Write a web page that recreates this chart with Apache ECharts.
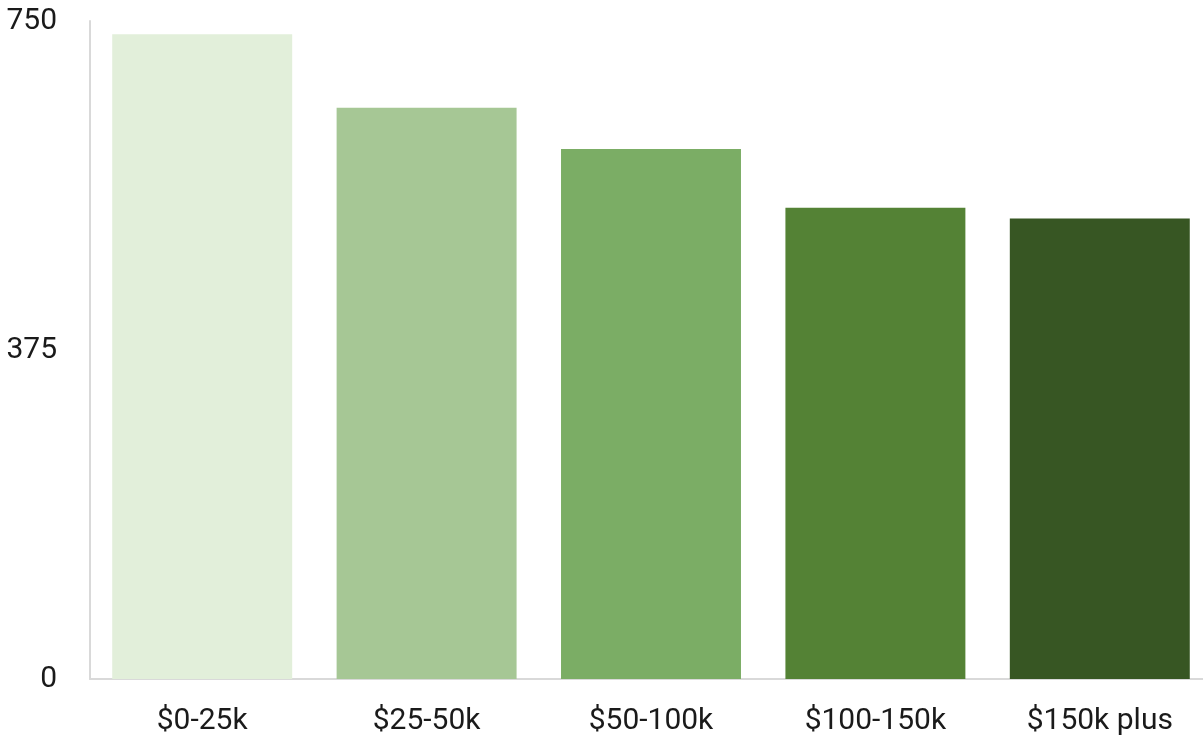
<!DOCTYPE html>
<html>
<head>
<meta charset="utf-8">
<script src="https://cdn.jsdelivr.net/npm/echarts@6/dist/echarts.min.js"></script>
<style>
  html, body { margin: 0; padding: 0; background: #fff; overflow: hidden; }
  #chart { width: 1212px; height: 741px; }
</style>
</head>
<body>
<div id="chart"></div>
<script>
// Income brackets and their counts
const categories = ['$0-25k', '$25-50k', '$50-100k', '$100-150k', '$150k plus'];
const values = [735, 651, 604, 537, 525];
const barColors = ['#E2EFDA', '#A6C795', '#7BAD65', '#548235', '#375623'];
const yTicks = [0, 375, 750];

const fontFamily = 'Roboto, "DejaVu Sans Condensed", sans-serif';

const chart = echarts.init(document.getElementById('chart'));
chart.setOption({
  animation: false,
  grid: { left: 90, right: 0, top: 21, bottom: 62, containLabel: false },
  xAxis: {
    type: 'category',
    data: categories,
    axisLine: { show: true, lineStyle: { color: '#D9D9D9', width: 2 } },
    axisTick: { show: false },
    axisLabel: { color: '#1a1a1a', fontSize: 30, fontFamily: fontFamily, margin: 27 }
  },
  yAxis: {
    type: 'value',
    min: yTicks[0],
    max: yTicks[yTicks.length - 1],
    interval: yTicks[1] - yTicks[0],
    axisLine: { show: true, lineStyle: { color: '#D9D9D9', width: 2 } },
    axisTick: { show: false },
    splitLine: { show: false },
    axisLabel: { color: '#1a1a1a', fontSize: 30, fontFamily: fontFamily, margin: 33 }
  },
  series: [{
    type: 'bar',
    barCategoryGap: '19.8%',
    data: values.map((v, i) => ({ value: v, itemStyle: { color: barColors[i] } }))
  }]
});
</script>
</body>
</html>
